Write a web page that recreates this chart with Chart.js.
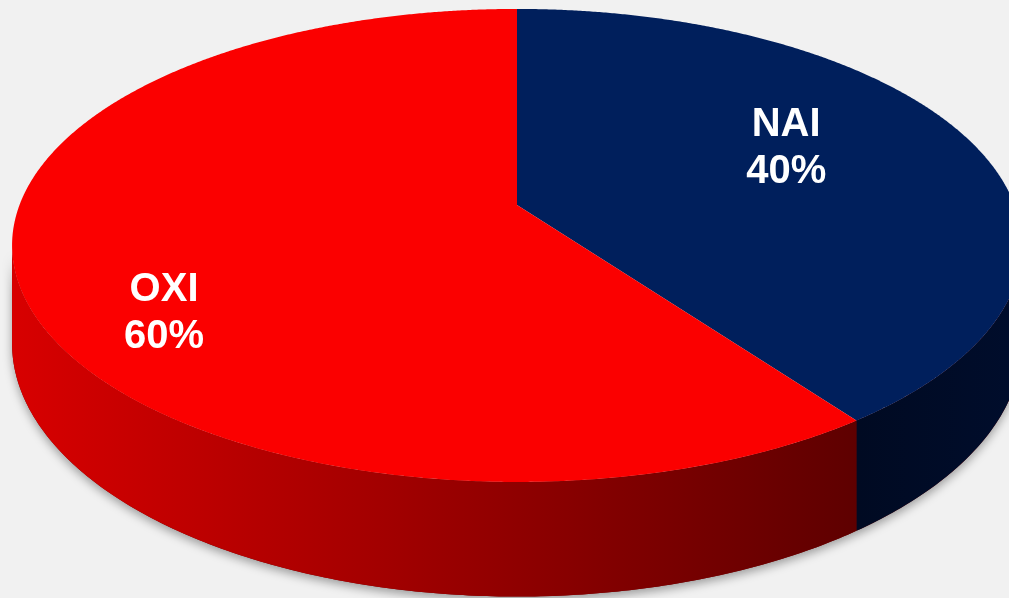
<!DOCTYPE html>
<html>
<head>
<meta charset="utf-8">
<script src="https://cdn.jsdelivr.net/npm/chart.js@4.4.0/dist/chart.umd.min.js"></script>
<style>
  html, body { margin: 0; padding: 0; background: #f1f1f1; }
  #wrap { width: 1009px; height: 598px; }
</style>
</head>
<body>
<div id="wrap"><canvas id="pie3d" width="1009" height="598"></canvas></div>
<script>
// chart data
const labels = ['NAI', 'OXI'];
const shares = [40, 60];
const percentLabels = ['40%', '60%'];

// colours
const topColors = ['#001f5c', '#fb0000'];
const sideColors = [['#000d2c', '#000a22'], ['#d80000', '#5e0000']];

// fake 3d view (perspective tilt of the disc)
const view = { cx: 517, cy: 205, A: 497.5, B: 229.6, p: 0.171, depth: 95 };
// where labels sit (fraction of radius + pixel nudge)
const labelPos = [{ f: 0.6, dx: -6, dy: -16 }, { f: 0.7, dx: -9, dy: 56 }];

function project(f, a, down) {
  const u = f * Math.cos(a), v = f * Math.sin(a);
  const w = 1 - view.p * v;
  const x = view.cx + view.A * u / w;
  const y = view.cy + view.B * v / w + (down ? view.depth / w : 0);
  return [x, y];
}

// overlap of [s,e] with [lo,hi], taking the 2pi wrap into account
function overlap(s, e, lo, hi) {
  for (let k = -1; k <= 1; k++) {
    const a = Math.max(s, lo + k * 2 * Math.PI);
    const b = Math.min(e, hi + k * 2 * Math.PI);
    if (b > a) return [a, b];
  }
  return null;
}

function sidePath(ctx, a, b) {
  const n = Math.max(2, Math.ceil((b - a) / 0.01));
  ctx.beginPath();
  for (let i = 0; i <= n; i++) {
    const p = project(1, a + (b - a) * i / n, false);
    i === 0 ? ctx.moveTo(p[0], p[1]) : ctx.lineTo(p[0], p[1]);
  }
  for (let i = n; i >= 0; i--) {
    const p = project(1, a + (b - a) * i / n, true);
    ctx.lineTo(p[0], p[1]);
  }
  ctx.closePath();
}

const pie3d = {
  id: 'pie3d',
  beforeDatasetDraw() {
    return false; // we draw the slices ourselves in perspective
  },
  afterDatasetsDraw(chart) {
    const ctx = chart.ctx;
    const arcs = chart.getDatasetMeta(0).data;
    const lo = Math.asin(view.p), hi = Math.PI - Math.asin(view.p);

    ctx.save();
    // drop shadow under the whole disc
    ctx.shadowColor = 'rgba(0,0,0,0.35)';
    ctx.shadowBlur = 10;
    ctx.shadowOffsetY = 4;
    sidePath(ctx, lo, hi);
    ctx.fillStyle = '#700000';
    ctx.fill();
    ctx.restore();

    // side walls
    arcs.forEach((arc, i) => {
      const r = overlap(arc.startAngle, arc.endAngle, lo, hi);
      if (!r) return;
      const x0 = project(1, r[0], false)[0];
      const x1 = project(1, r[1], false)[0];
      const g = ctx.createLinearGradient(Math.min(x0, x1), 0, Math.max(x0, x1), 0);
      const c = sideColors[i];
      if (i === 1) { g.addColorStop(0, c[0]); g.addColorStop(1, c[1]); }
      else { g.addColorStop(0, c[1]); g.addColorStop(1, c[0]); }
      ctx.fillStyle = g;
      sidePath(ctx, r[0], r[1]);
      ctx.fill();
    });

    // top faces
    arcs.forEach((arc, i) => {
      const s = arc.startAngle, e = arc.endAngle;
      const n = Math.ceil((e - s) / 0.005);
      ctx.beginPath();
      const c = project(0, 0, false);
      ctx.moveTo(c[0], c[1]);
      for (let k = 0; k <= n; k++) {
        const p = project(1, s + (e - s) * k / n, false);
        ctx.lineTo(p[0], p[1]);
      }
      ctx.closePath();
      ctx.fillStyle = arc.options.backgroundColor;
      ctx.fill();
    });

    // labels
    ctx.fillStyle = '#ffffff';
    ctx.font = 'bold 40px "Liberation Sans", Arial, sans-serif';
    ctx.textAlign = 'center';
    ctx.textBaseline = 'middle';
    arcs.forEach((arc, i) => {
      const mid = (arc.startAngle + arc.endAngle) / 2;
      const lp = labelPos[i];
      const p = project(lp.f, mid, false);
      const x = p[0] + lp.dx, y = p[1] + lp.dy;
      ctx.fillText(labels[i], x, y - 23);
      ctx.fillText(percentLabels[i], x, y + 24);
    });
  }
};

new Chart(document.getElementById('pie3d'), {
  type: 'pie',
  data: {
    labels: labels,
    datasets: [{
      data: shares,
      backgroundColor: topColors,
      borderWidth: 0
    }]
  },
  options: {
    responsive: false,
    animation: false,
    events: [],
    plugins: {
      legend: { display: false },
      tooltip: { enabled: false }
    }
  },
  plugins: [pie3d]
});
</script>
</body>
</html>
